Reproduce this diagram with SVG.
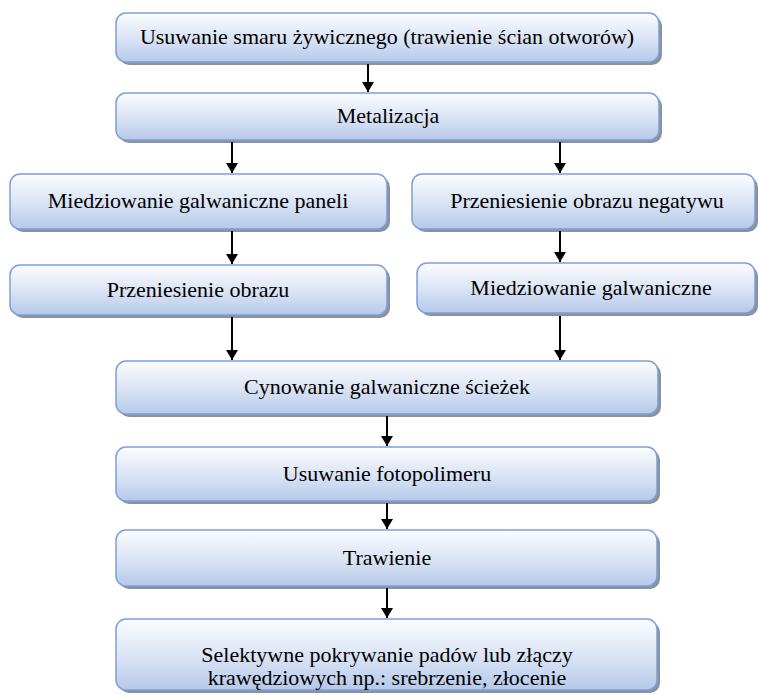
<svg xmlns="http://www.w3.org/2000/svg" width="760" height="695" viewBox="0 0 760 695">
<defs>
<linearGradient id="g" x1="0" y1="0" x2="0" y2="1">
<stop offset="0" stop-color="#fbfcfe"/>
<stop offset="0.5" stop-color="#dce5f5"/>
<stop offset="1" stop-color="#b6c9ea"/>
</linearGradient>
<marker id="ah" viewBox="0 0 10 12" refX="10" refY="6" markerWidth="10" markerHeight="12" markerUnits="userSpaceOnUse" orient="auto">
<path d="M0,0 L10,6 L0,12 Z" fill="#000"/>
</marker>
</defs>
<style>
.sh{fill:#8c929c;}
.bx{fill:url(#g);stroke:#7e9fd9;stroke-width:1.5;}
.c{stroke:#000;stroke-width:2;fill:none;marker-end:url(#ah);}
</style>
<rect width="760" height="695" fill="#fff"/>
<g font-family="Liberation Serif" font-size="22" text-anchor="middle" fill="#000">
<g id="n1"><rect class="sh" x="119" y="16" width="543" height="49" rx="10"/><rect class="bx" x="116" y="13" width="543" height="49" rx="10"/><text x="387" y="44" font-family="Liberation Serif">Usuwanie smaru żywicznego (trawienie ścian otworów)</text></g>
<g id="n2"><rect class="sh" x="119" y="96" width="543" height="47" rx="10"/><rect class="bx" x="116" y="93" width="543" height="47" rx="10"/><text x="388" y="123" font-family="Liberation Serif">Metalizacja</text></g>
<g id="n3"><rect class="sh" x="13" y="177" width="377" height="55" rx="10"/><rect class="bx" x="10" y="174" width="377" height="55" rx="10"/><text x="198" y="208" font-family="Liberation Serif">Miedziowanie galwaniczne paneli</text></g>
<g id="n4"><rect class="sh" x="13" y="268" width="377" height="50" rx="10"/><rect class="bx" x="10" y="265" width="377" height="50" rx="10"/><text x="198" y="297" font-family="Liberation Serif">Przeniesienie obrazu</text></g>
<g id="n5"><rect class="sh" x="415" y="177" width="343" height="55" rx="10"/><rect class="bx" x="412" y="174" width="343" height="55" rx="10"/><text x="587" y="208" font-family="Liberation Serif">Przeniesienie obrazu negatywu</text></g>
<g id="n6"><rect class="sh" x="420" y="266" width="338" height="50" rx="10"/><rect class="bx" x="417" y="263" width="338" height="50" rx="10"/><text x="591" y="295" font-family="Liberation Serif">Miedziowanie galwaniczne</text></g>
<g id="n7"><rect class="sh" x="119" y="364" width="542" height="53" rx="10"/><rect class="bx" x="116" y="361" width="542" height="53" rx="10"/><text x="387" y="394" font-family="Liberation Serif">Cynowanie galwaniczne ścieżek</text></g>
<g id="n8"><rect class="sh" x="119" y="450" width="541" height="54" rx="10"/><rect class="bx" x="116" y="447" width="541" height="54" rx="10"/><text x="387" y="481" font-family="Liberation Serif">Usuwanie fotopolimeru</text></g>
<g id="n9"><rect class="sh" x="119" y="533" width="541" height="56" rx="10"/><rect class="bx" x="116" y="530" width="541" height="56" rx="10"/><text x="387" y="565" font-family="Liberation Serif">Trawienie</text></g>
<g id="n10"><rect class="sh" x="119" y="622" width="541" height="71" rx="10"/><rect class="bx" x="116" y="619" width="541" height="71" rx="10"/><text x="387" y="662" font-family="Liberation Serif">Selektywne pokrywanie padów lub złączy</text><text x="387" y="685" font-family="Liberation Serif">krawędziowych np.: srebrzenie, złocenie</text></g>
</g>
<g id="connectors">
<line class="c" x1="368" y1="64" x2="368" y2="92"/>
<line class="c" x1="232" y1="142" x2="232" y2="173"/>
<line class="c" x1="560" y1="142" x2="560" y2="173"/>
<line class="c" x1="232" y1="231" x2="232" y2="264"/>
<line class="c" x1="560" y1="231" x2="560" y2="262"/>
<line class="c" x1="232" y1="317" x2="232" y2="360"/>
<line class="c" x1="560" y1="316" x2="560" y2="360"/>
<line class="c" x1="387" y1="416" x2="387" y2="446"/>
<line class="c" x1="387" y1="503" x2="387" y2="529"/>
<line class="c" x1="387" y1="588" x2="387" y2="618"/>
</g>
</svg>
